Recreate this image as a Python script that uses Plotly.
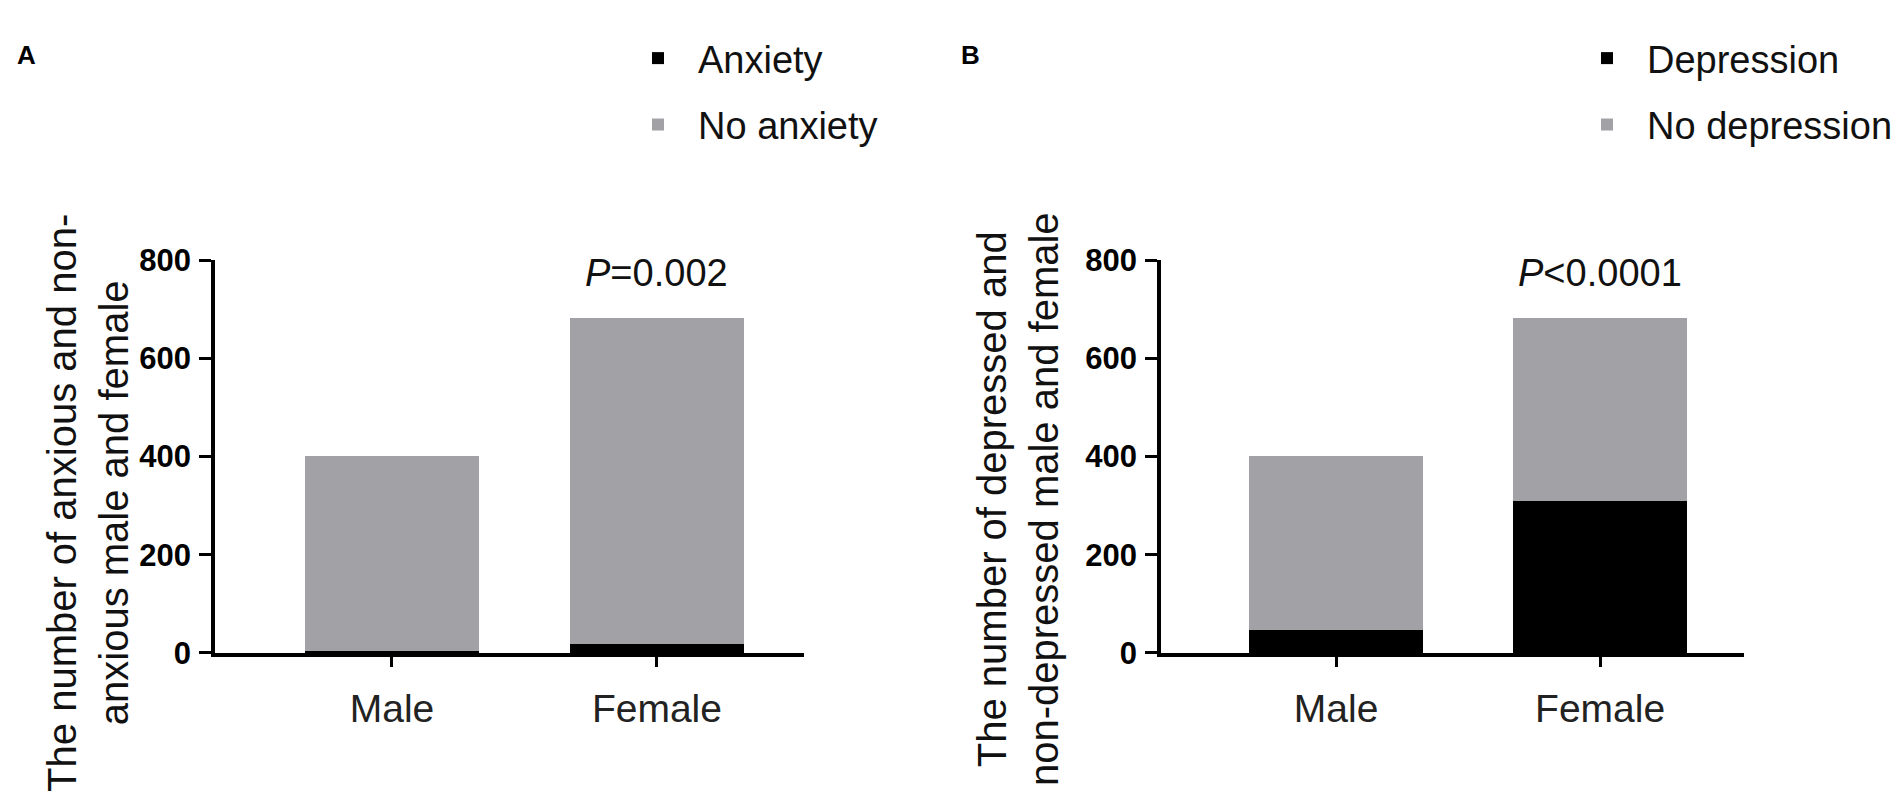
import plotly.graph_objects as go

# values
sexes = ["Male", "Female"]
anxiety = [3, 19]
no_anxiety = [398, 663]
depression = [47, 309]
no_depression = [354, 373]
p_text_a = "<i>P</i>=0.002"
p_text_b = "<i>P</i>&lt;0.0001"
y_ticks = [0, 200, 400, 600, 800]

W, H = 1904, 792
BLACK = "#000000"
GREY = "#a2a1a6"
FONT = "Liberation Sans, Arial, sans-serif"
BAR_W = 0.66


def px_x(v):
    return v / W


def px_y(v):
    return 1 - v / H


fig = go.Figure()

fig.add_trace(go.Bar(x=sexes, y=anxiety, name="Anxiety", marker_color=BLACK,
                     marker_line_width=0, width=BAR_W, legend="legend",
                     legendgroup="a1", xaxis="x", yaxis="y"))
fig.add_trace(go.Bar(x=sexes, y=no_anxiety, name="No anxiety", marker_color=GREY,
                     marker_line_width=0, width=BAR_W,
                     legend="legend", legendgroup="a2", xaxis="x", yaxis="y"))
fig.add_trace(go.Bar(x=sexes, y=depression, name="Depression", marker_color=BLACK,
                     marker_line_width=0, width=BAR_W, legend="legend2",
                     legendgroup="b1", xaxis="x2", yaxis="y2"))
fig.add_trace(go.Bar(x=sexes, y=no_depression, name="No depression", marker_color=GREY,
                     marker_line_width=0, width=BAR_W,
                     legend="legend2", legendgroup="b2", xaxis="x2", yaxis="y2"))

ydom = [px_y(657), px_y(246)]
yax = dict(range=[0, 800], tickvals=y_ticks, showgrid=False, zeroline=False,
           showline=True, linecolor="black", linewidth=3.5, ticks="outside",
           ticklen=12, tickwidth=3, tickcolor="black",
           tickfont=dict(family=FONT, size=31, color="black", weight="bold"),
           ticklabelstandoff=2, domain=ydom, fixedrange=True)
xax = dict(showgrid=False, zeroline=False, showline=True, linecolor="black",
           linewidth=3.5, ticks="outside", ticklen=10, tickwidth=3, tickcolor="black",
           tickfont=dict(family=FONT, size=39, color="#222"),
           ticklabelstandoff=8, fixedrange=True)

legend_style = dict(font=dict(family=FONT, size=38, color="#111"),
                    traceorder="grouped", tracegroupgap=14, itemwidth=70,
                    bgcolor="rgba(0,0,0,0)", xanchor="left", yanchor="top",
                    itemclick=False)

fig.update_layout(
    width=W, height=H,
    margin=dict(l=0, r=0, t=0, b=0),
    paper_bgcolor="white", plot_bgcolor="white",
    barmode="stack",
    font=dict(family=FONT),
    xaxis=dict(xax, domain=[px_x(207), px_x(796)], range=[-0.668, 1.555],
               anchor="y"),
    yaxis=dict(yax, anchor="x"),
    xaxis2=dict(xax, domain=[px_x(1153), px_x(1736)], range=[-0.663, 1.545],
                anchor="y2"),
    yaxis2=dict(yax, anchor="x2"),
    legend=dict(legend_style, x=px_x(610), y=px_y(2)),
    legend2=dict(legend_style, x=px_x(1559), y=px_y(2)),
)

ann_font = dict(family=FONT, size=40, color="#111")
p_font = dict(family=FONT, size=38, color="#111")
fig.add_annotation(text="<b>A</b>", x=px_x(7), y=px_y(31), xref="paper", yref="paper",
                   xanchor="left", yanchor="middle", showarrow=False,
                   font=dict(family=FONT, size=26, color="black"))
fig.add_annotation(text="<b>B</b>", x=px_x(951), y=px_y(31), xref="paper", yref="paper",
                   xanchor="left", yanchor="middle", showarrow=False,
                   font=dict(family=FONT, size=26, color="black"))
fig.add_annotation(text="The number of anxious and non-<br>anxious male and female",
                   textangle=-90, x=px_x(80), y=px_y(500), xref="paper", yref="paper",
                   xanchor="center", yanchor="middle", showarrow=False, font=ann_font)
fig.add_annotation(text="The number of depressed and<br>non-depressed male and female",
                   textangle=-90, x=px_x(1010), y=px_y(496), xref="paper", yref="paper",
                   xanchor="center", yanchor="middle", showarrow=False, font=ann_font)
fig.add_annotation(text=p_text_a, x="Female", y=sum([anxiety[1], no_anxiety[1]]),
                   xref="x", yref="y", yshift=45, showarrow=False, font=p_font)
fig.add_annotation(text=p_text_b, x="Female", y=sum([depression[1], no_depression[1]]),
                   xref="x2", yref="y2", yshift=45, showarrow=False, font=p_font)

fig.write_html("out.html")
